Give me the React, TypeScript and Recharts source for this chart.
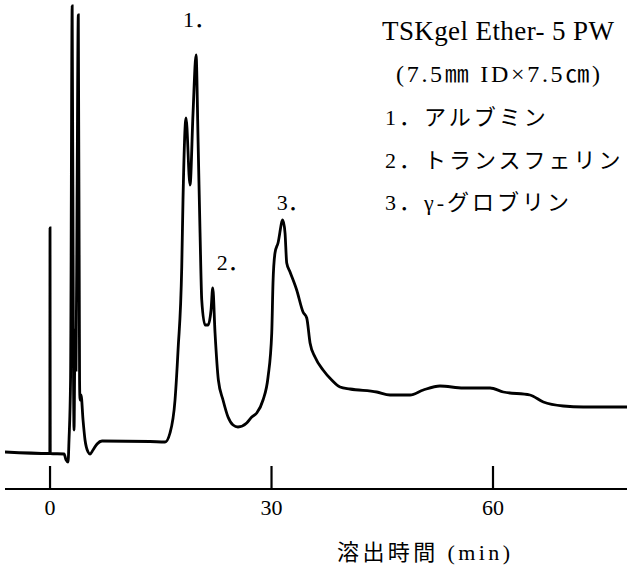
import { Line, LineChart, ReferenceDot, XAxis, YAxis } from 'recharts'

// Elution time (min) and detector response (relative units)
const elutionMin = [
  -6.1, -0.03, 0, 0.03, 1.9, 2.17, 2.44, 2.57, 2.78, 3.0, 3.18, 3.25, 3.39, 3.52, 3.66, 3.83, 4.0,
  4.06, 4.2, 4.47, 4.74, 5.15, 5.42, 5.82, 6.37, 7.04, 13.54, 15.58, 16.25, 16.93, 17.34, 17.84,
  18.01, 18.42, 18.96, 19.37, 19.78, 20.05, 20.32, 20.55, 20.99, 21.4, 21.81, 22.04, 22.35, 22.8,
  23.43, 24.11, 24.79, 25.46, 26.64, 27.32, 28.0, 28.85, 29.53, 30.03, 30.2, 30.47, 30.88, 31.52,
  31.83, 32.06, 32.51, 33.41, 34.27, 34.77, 35.22, 35.89, 36.98, 38.15, 39.28, 40.63, 44.25,
  46.05, 48.76, 50.56, 52.82, 55.98, 59.6, 61.4, 65.01, 66.82, 69.52, 72.23, 78.15,
]
const detector = [
  38, 36.5, 262, 36.5, 36, 30, 28, 50, 110, 484, 110, 60, 160, 120, 290, 475, 110,
  90, 95, 70, 50, 38, 36, 40, 46, 49, 48.5, 48, 57, 90, 140, 223,
  290, 372, 305, 377, 435, 350, 257, 190, 165, 165, 180, 202, 157, 110,
  90, 73, 65, 63, 67, 73, 77, 90, 113, 157, 207, 237, 247, 270,
  257, 227, 218, 200, 178, 172, 147, 133, 120, 110, 103, 101, 98,
  95, 95, 100, 104, 102, 102, 98, 95, 88, 84, 83, 83,
]

const xTicks = [0, 30, 60]

// Peak numbers and the elution time of each peak top
const peakNames = ['1．', '2．', '3．']
const peakTimes = [19.78, 22.04, 31.52]

const columnLines = ['TSKgel Ether- 5 PW', '(7.5㎜ ID×7.5㎝)']
const proteinNames = ['1．アルブミン', '2．トランスフェリン', '3．γ-グロブリン']
const timeAxisTitle = '溶出時間 (min)'

const data = elutionMin.map((t, i) => ({ t, v: detector[i] }))

const serif = "'Liberation Serif', 'Times New Roman', 'Noto Sans CJK JP', serif"

// label offsets relative to each peak top
const peakLabelOffset = [
  { dx: -13, dy: -28 },
  { dx: 4, dy: -18 },
  { dx: -6, dy: -10 },
]

function TimeTick({ x, y, payload }: any) {
  return (
    <g>
      <line x1={x} x2={x} y1={y} y2={y - 23} stroke="#000" strokeWidth={2.2} />
      <text x={x} y={y + 26} textAnchor="middle" fontSize={22} fontFamily={serif} fill="#000">
        {payload.value}
      </text>
    </g>
  )
}

export default function App() {
  return (
    <div style={{ position: 'absolute', left: 0, top: 0, width: 627, height: 565, background: '#fff' }}>
      <LineChart width={627} height={565} data={data} margin={{ top: 0, right: 0, left: 5, bottom: 0 }}>
        <XAxis
          dataKey="t"
          type="number"
          domain={[-6.1, 78.15]}
          ticks={xTicks}
          allowDataOverflow
          height={76}
          tickSize={0}
          tickMargin={0}
          tickLine={false}
          tick={<TimeTick />}
          axisLine={{ stroke: '#000', strokeWidth: 2 }}
        />
        <YAxis hide type="number" domain={[1, 490]} allowDataOverflow />
        <Line
          dataKey="v"
          type="monotone"
          stroke="#000"
          strokeWidth={2.8}
          dot={false}
          isAnimationActive={false}
        />
        {peakTimes.map((pt, i) => {
          const idx = elutionMin.indexOf(pt)
          const off = peakLabelOffset[i]
          return (
            <ReferenceDot
              key={peakNames[i]}
              x={pt}
              y={detector[idx]}
              r={0}
              fill="none"
              stroke="none"
              label={({ viewBox }: any) => (
                <text
                  x={viewBox.x + off.dx}
                  y={viewBox.y + off.dy}
                  fontSize={22}
                  fontFamily={serif}
                  fill="#000"
                >
                  {peakNames[i]}
                </text>
              )}
            />
          )
        })}
      </LineChart>
      <svg
        width={627}
        height={565}
        style={{ position: 'absolute', left: 0, top: 0, pointerEvents: 'none' }}
      >
        <text
          x={382}
          y={40}
          fontSize={27}
          textLength={232}
          lengthAdjust="spacing"
          fontFamily={serif}
          fill="#000"
        >
          {columnLines[0]}
        </text>
        <text
          x={396}
          y={82}
          fontSize={24}
          textLength={204}
          lengthAdjust="spacing"
          fontFamily={serif}
          fill="#000"
        >
          {columnLines[1]}
        </text>
        {proteinNames.map((name, i) => (
          <text
            key={name}
            x={385}
            y={125 + i * 42.5}
            fontSize={22}
            letterSpacing={3}
            fontFamily={serif}
            fill="#000"
          >
            {name}
          </text>
        ))}
        <text
          x={337}
          y={560}
          fontSize={22}
          textLength={173}
          lengthAdjust="spacing"
          fontFamily={serif}
          fill="#000"
        >
          {timeAxisTitle}
        </text>
      </svg>
    </div>
  )
}
